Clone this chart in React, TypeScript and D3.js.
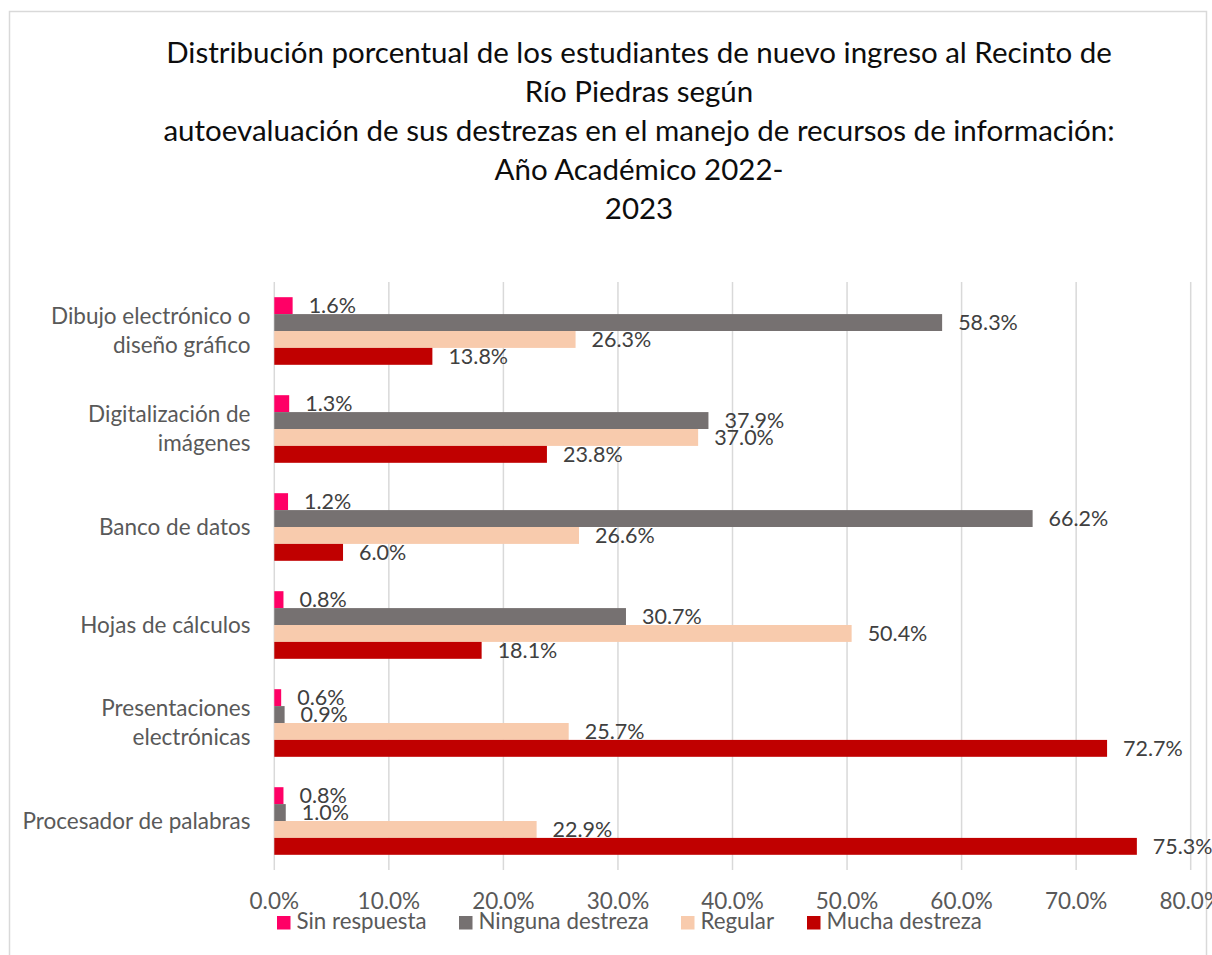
import React from "react";
import * as d3 from "d3";

const categories = [
  ["Dibujo electrónico o", "diseño gráfico"],
  ["Digitalización de", "imágenes"],
  ["Banco de datos"],
  ["Hojas de cálculos"],
  ["Presentaciones", "electrónicas"],
  ["Procesador de palabras"],
];
const seriesNames = ["Sin respuesta", "Ninguna destreza", "Regular", "Mucha destreza"];
const seriesColors = ["#FF0066", "#767171", "#F8CBAD", "#C00000"];
const sinRespuesta = [1.6, 1.3, 1.2, 0.8, 0.6, 0.8];
const ningunaDestreza = [58.3, 37.9, 66.2, 30.7, 0.9, 1.0];
const regular = [26.3, 37.0, 26.6, 50.4, 25.7, 22.9];
const muchaDestreza = [13.8, 23.8, 6.0, 18.1, 72.7, 75.3];
const xTicks = [0, 10, 20, 30, 40, 50, 60, 70, 80];
const titleLines = [
  "Distribución porcentual de los estudiantes de nuevo ingreso al Recinto de",
  "Río Piedras según",
  "autoevaluación de sus destrezas en el manejo de recursos de información:",
  "Año Académico 2022-",
  "2023",
];
const legendX = [277, 459, 681, 807];

const FONT = "Lato, 'Open Sans', sans-serif";

export default function App() {
  const W = 1212, H = 955;
  const x = d3.scaleLinear().domain([0, 80]).range([274.3, 1190.7]);
  const y0 = d3.scaleBand<number>().domain(d3.range(categories.length)).range([282, 870]).paddingInner(0.31).paddingOuter(0.155);
  const y1 = d3.scaleBand<number>().domain(d3.range(4)).range([0, y0.bandwidth()]);
  const series = [sinRespuesta, ningunaDestreza, regular, muchaDestreza];

  return (
    <svg width={W} height={H} style={{ position: "absolute", left: 0, top: 0 }} fontFamily={FONT}>
      <rect x={0} y={0} width={W} height={H} fill="#fff" />
      <rect x={9.5} y={11.5} width={1197} height={960} fill="#fff" stroke="#D9D9D9" strokeWidth={1.5} />
      {titleLines.map((t, i) => (
        <text key={i} x={639} y={63 + i * 39} textAnchor="middle" fontSize={29.5} fill="#0D0D0D">{t}</text>
      ))}
      {xTicks.map((t) => (
        <g key={t}>
          <line x1={x(t)} x2={x(t)} y1={282} y2={870} stroke="#D9D9D9" strokeWidth={1.5} />
          <text x={x(t)} y={909} textAnchor="middle" fontSize={22.5} fill="#595959">{t.toFixed(1) + "%"}</text>
        </g>
      ))}
      {categories.map((lines, ci) => {
        const cy = (y0(ci) as number) + y0.bandwidth() / 2;
        return (
          <g key={ci}>
            {lines.map((l, li) => (
              <text key={li} x={250.5} y={cy + (li - (lines.length - 1) / 2) * 29} dy="0.35em" textAnchor="end" fontSize={22.5} fill="#595959">{l}</text>
            ))}
            {series.map((s, si) => {
              const by = (y0(ci) as number) + (y1(si) as number);
              return (
                <g key={si}>
                  <rect x={x(0)} y={by} width={x(s[ci]) - x(0)} height={y1.bandwidth()} fill={seriesColors[si]} />
                  <text x={x(s[ci]) + 16} y={by + y1.bandwidth() / 2} dy="0.36em" fontSize={21.5} fill="#404040">{s[ci].toFixed(1) + "%"}</text>
                </g>
              );
            })}
          </g>
        );
      })}
      {seriesNames.map((n, i) => (
        <g key={n}>
          <rect x={legendX[i]} y={916} width={13.5} height={13.5} fill={seriesColors[i]} />
          <text x={legendX[i] + 19.5} y={929} fontSize={22.3} fill="#595959">{n}</text>
        </g>
      ))}
    </svg>
  );
}
